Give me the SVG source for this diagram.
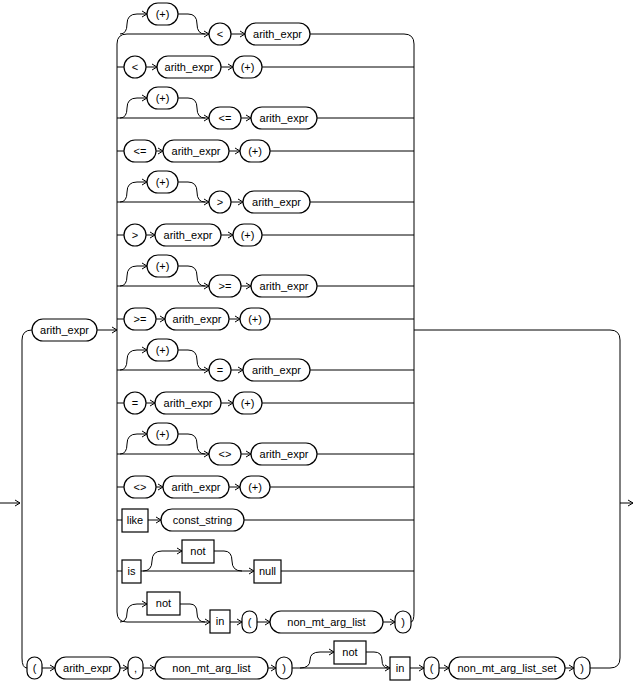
<svg xmlns="http://www.w3.org/2000/svg" width="635" height="689" viewBox="0 0 635 689">
<style>
.n{fill:#fff;stroke:#000;stroke-width:1.2}
.c{fill:none;stroke:#000;stroke-width:1}
text{font-family:"Liberation Sans",Arial,sans-serif;font-size:11px;text-anchor:middle;fill:#000}
</style>
<defs><marker id="a" markerUnits="userSpaceOnUse" markerWidth="8" markerHeight="8" refX="6" refY="4" orient="auto"><path d="M1,1 L6,4 L1,7" fill="none" stroke="#000" stroke-width="1"/></marker></defs>
<rect width="635" height="689" fill="#fff"/>
<g id="connectors" class="c">
<path d="M0,503 H20" marker-end="url(#a)"/>
<path d="M22,503 V340 Q22,330 32,330"/>
<path d="M22,503 V658 Q22,668 27,668"/>
<path d="M97,330 H117" marker-end="url(#a)"/>
<path d="M414,330 H610 Q620,330 620,340 V658 Q620,668 610,668 H590"/>
<path d="M620,503 H633" marker-end="url(#a)"/>
<path d="M127,34 Q117,34 117,44 V612 Q117,622 127,622"/>
<path d="M310,34 H404 Q414,34 414,44 V612 Q414,622 411,622"/>
<!-- bypass rows -->
<path d="M127,34 H209" marker-end="url(#a)"/><path d="M120,34 Q127,34 127,24 Q127,14 137,14 H147" marker-end="url(#a)"/><path d="M178,14 H188 Q197,14 197,24 Q197,34 205,34"/><path d="M231,34 H245" marker-end="url(#a)"/>
<path d="M117,118 H209" marker-end="url(#a)"/><path d="M120,118 Q127,118 127,108 Q127,98 137,98 H147" marker-end="url(#a)"/><path d="M178,98 H188 Q197,98 197,108 Q197,118 205,118"/><path d="M241,118 H251" marker-end="url(#a)"/><path d="M317,118 H414"/>
<path d="M117,202 H209" marker-end="url(#a)"/><path d="M120,202 Q127,202 127,192 Q127,182 137,182 H147" marker-end="url(#a)"/><path d="M178,182 H188 Q197,182 197,192 Q197,202 205,202"/><path d="M231,202 H243" marker-end="url(#a)"/><path d="M310,202 H414"/>
<path d="M117,286 H209" marker-end="url(#a)"/><path d="M120,286 Q127,286 127,276 Q127,266 137,266 H147" marker-end="url(#a)"/><path d="M178,266 H188 Q197,266 197,276 Q197,286 205,286"/><path d="M241,286 H251" marker-end="url(#a)"/><path d="M317,286 H414"/>
<path d="M117,370 H209" marker-end="url(#a)"/><path d="M120,370 Q127,370 127,360 Q127,350 137,350 H147" marker-end="url(#a)"/><path d="M178,350 H188 Q197,350 197,360 Q197,370 205,370"/><path d="M231,370 H243" marker-end="url(#a)"/><path d="M310,370 H414"/>
<path d="M117,454 H209" marker-end="url(#a)"/><path d="M120,454 Q127,454 127,444 Q127,434 137,434 H147" marker-end="url(#a)"/><path d="M178,434 H188 Q197,434 197,444 Q197,454 205,454"/><path d="M241,454 H251" marker-end="url(#a)"/><path d="M317,454 H414"/>
<!-- straight rows -->
<path d="M117,67 H124"/><path d="M146,67 H157" marker-end="url(#a)"/><path d="M221,67 H233" marker-end="url(#a)"/><path d="M262,67 H414"/>
<path d="M117,151 H124"/><path d="M156,151 H163" marker-end="url(#a)"/><path d="M229,151 H240" marker-end="url(#a)"/><path d="M270,151 H414"/>
<path d="M117,235 H124"/><path d="M146,235 H155" marker-end="url(#a)"/><path d="M221,235 H233" marker-end="url(#a)"/><path d="M262,235 H414"/>
<path d="M117,319 H124"/><path d="M156,319 H165" marker-end="url(#a)"/><path d="M229,319 H240" marker-end="url(#a)"/><path d="M270,319 H414"/>
<path d="M117,403 H124"/><path d="M146,403 H155" marker-end="url(#a)"/><path d="M221,403 H233" marker-end="url(#a)"/><path d="M262,403 H414"/>
<path d="M117,487 H124"/><path d="M156,487 H163" marker-end="url(#a)"/><path d="M229,487 H240" marker-end="url(#a)"/><path d="M270,487 H414"/>
<path d="M117,520 H122"/><path d="M148,520 H161" marker-end="url(#a)"/><path d="M244,520 H414"/>
<path d="M117,571 H122"/><path d="M141,571 H254" marker-end="url(#a)"/><path d="M143,571 Q152,571 152,561 Q152,551 162,551 H182" marker-end="url(#a)"/><path d="M214,551 H224 Q232,551 232,561 Q232,571 242,571"/><path d="M281,571 H414"/>
<path d="M127,622 H210" marker-end="url(#a)"/><path d="M120,622 Q127,622 127,613 Q127,604 137,604 H147" marker-end="url(#a)"/><path d="M180,604 H190 Q197,604 197,613 Q197,622 205,622"/><path d="M230,622 H242" marker-end="url(#a)"/><path d="M257,622 H270" marker-end="url(#a)"/><path d="M383,622 H395" marker-end="url(#a)"/>
<!-- bottom -->
<path d="M42,668 H55" marker-end="url(#a)"/><path d="M120,668 H128" marker-end="url(#a)"/><path d="M143,668 H155" marker-end="url(#a)"/><path d="M268,668 H276" marker-end="url(#a)"/><path d="M292,668 H390" marker-end="url(#a)"/><path d="M300,668 Q310,668 310,660 Q310,652 320,652 H334" marker-end="url(#a)"/><path d="M366,652 H374 Q382,652 382,660 Q382,668 388,668"/><path d="M410,668 H424" marker-end="url(#a)"/><path d="M439,668 H449" marker-end="url(#a)"/><path d="M565,668 H574" marker-end="url(#a)"/>
</g>
<g id="n_ae0"><rect class="n" x="32" y="319" width="65" height="22" rx="11"/><text x="64.5" y="334">arith_expr</text></g>
<g id="r1p"><rect class="n" x="147" y="3" width="31" height="22" rx="11"/><text x="162.5" y="18">(+)</text></g>
<g id="r1o"><rect class="n" x="209" y="23" width="22" height="22" rx="11"/><text x="220" y="38">&lt;</text></g>
<g id="r1a"><rect class="n" x="245" y="23" width="65" height="22" rx="11"/><text x="277.5" y="38">arith_expr</text></g>
<g id="r2o"><rect class="n" x="124" y="56" width="22" height="22" rx="11"/><text x="135" y="71">&lt;</text></g>
<g id="r2a"><rect class="n" x="157" y="56" width="64" height="22" rx="11"/><text x="189" y="71">arith_expr</text></g>
<g id="r2p"><rect class="n" x="233" y="56" width="29" height="22" rx="11"/><text x="247.5" y="71">(+)</text></g>
<g id="r3p"><rect class="n" x="147" y="87" width="31" height="22" rx="11"/><text x="162.5" y="102">(+)</text></g>
<g id="r3o"><rect class="n" x="209" y="107" width="32" height="22" rx="11"/><text x="225" y="122">&lt;=</text></g>
<g id="r3a"><rect class="n" x="251" y="107" width="66" height="22" rx="11"/><text x="284" y="122">arith_expr</text></g>
<g id="r4o"><rect class="n" x="124" y="140" width="32" height="22" rx="11"/><text x="140" y="155">&lt;=</text></g>
<g id="r4a"><rect class="n" x="163" y="140" width="66" height="22" rx="11"/><text x="196" y="155">arith_expr</text></g>
<g id="r4p"><rect class="n" x="240" y="140" width="30" height="22" rx="11"/><text x="255" y="155">(+)</text></g>
<g id="r5p"><rect class="n" x="147" y="171" width="31" height="22" rx="11"/><text x="162.5" y="186">(+)</text></g>
<g id="r5o"><rect class="n" x="209" y="191" width="22" height="22" rx="11"/><text x="220" y="206">&gt;</text></g>
<g id="r5a"><rect class="n" x="243" y="191" width="67" height="22" rx="11"/><text x="276.5" y="206">arith_expr</text></g>
<g id="r6o"><rect class="n" x="124" y="224" width="22" height="22" rx="11"/><text x="135" y="239">&gt;</text></g>
<g id="r6a"><rect class="n" x="155" y="224" width="66" height="22" rx="11"/><text x="188" y="239">arith_expr</text></g>
<g id="r6p"><rect class="n" x="233" y="224" width="29" height="22" rx="11"/><text x="247.5" y="239">(+)</text></g>
<g id="r7p"><rect class="n" x="147" y="255" width="31" height="22" rx="11"/><text x="162.5" y="270">(+)</text></g>
<g id="r7o"><rect class="n" x="209" y="275" width="32" height="22" rx="11"/><text x="225" y="290">&gt;=</text></g>
<g id="r7a"><rect class="n" x="251" y="275" width="66" height="22" rx="11"/><text x="284" y="290">arith_expr</text></g>
<g id="r8o"><rect class="n" x="124" y="308" width="32" height="22" rx="11"/><text x="140" y="323">&gt;=</text></g>
<g id="r8a"><rect class="n" x="165" y="308" width="64" height="22" rx="11"/><text x="197" y="323">arith_expr</text></g>
<g id="r8p"><rect class="n" x="240" y="308" width="30" height="22" rx="11"/><text x="255" y="323">(+)</text></g>
<g id="r9p"><rect class="n" x="147" y="339" width="31" height="22" rx="11"/><text x="162.5" y="354">(+)</text></g>
<g id="r9o"><rect class="n" x="209" y="359" width="22" height="22" rx="11"/><text x="220" y="374">=</text></g>
<g id="r9a"><rect class="n" x="243" y="359" width="67" height="22" rx="11"/><text x="276.5" y="374">arith_expr</text></g>
<g id="r10o"><rect class="n" x="124" y="392" width="22" height="22" rx="11"/><text x="135" y="407">=</text></g>
<g id="r10a"><rect class="n" x="155" y="392" width="66" height="22" rx="11"/><text x="188" y="407">arith_expr</text></g>
<g id="r10p"><rect class="n" x="233" y="392" width="29" height="22" rx="11"/><text x="247.5" y="407">(+)</text></g>
<g id="r11p"><rect class="n" x="147" y="423" width="31" height="22" rx="11"/><text x="162.5" y="438">(+)</text></g>
<g id="r11o"><rect class="n" x="209" y="443" width="32" height="22" rx="11"/><text x="225" y="458">&lt;&gt;</text></g>
<g id="r11a"><rect class="n" x="251" y="443" width="66" height="22" rx="11"/><text x="284" y="458">arith_expr</text></g>
<g id="r12o"><rect class="n" x="124" y="476" width="32" height="22" rx="11"/><text x="140" y="491">&lt;&gt;</text></g>
<g id="r12a"><rect class="n" x="163" y="476" width="66" height="22" rx="11"/><text x="196" y="491">arith_expr</text></g>
<g id="r12p"><rect class="n" x="240" y="476" width="30" height="22" rx="11"/><text x="255" y="491">(+)</text></g>
<g id="like"><rect class="n" x="122" y="509" width="26" height="23"/><text x="135" y="524">like</text></g>
<g id="cstr"><rect class="n" x="161" y="509" width="83" height="22" rx="11"/><text x="202.5" y="524">const_string</text></g>
<g id="is"><rect class="n" x="122" y="560" width="19" height="23"/><text x="131.5" y="575">is</text></g>
<g id="not1"><rect class="n" x="182" y="540" width="32" height="23"/><text x="198" y="555">not</text></g>
<g id="null"><rect class="n" x="254" y="560" width="27" height="23"/><text x="267.5" y="575">null</text></g>
<g id="not2"><rect class="n" x="147" y="592" width="33" height="23"/><text x="163.5" y="607">not</text></g>
<g id="in1"><rect class="n" x="210" y="610" width="20" height="23"/><text x="220" y="625">in</text></g>
<g id="lp1"><rect class="n" x="242" y="611" width="15" height="22" rx="7.5"/><text x="249.5" y="626">(</text></g>
<g id="nmal1"><rect class="n" x="270" y="611" width="113" height="22" rx="11"/><text x="326.5" y="626">non_mt_arg_list</text></g>
<g id="rp1"><rect class="n" x="395" y="611" width="16" height="22" rx="8"/><text x="403" y="626">)</text></g>
<g id="lp2"><rect class="n" x="27" y="657" width="15" height="22" rx="7.5"/><text x="34.5" y="672">(</text></g>
<g id="ae2"><rect class="n" x="55" y="657" width="65" height="22" rx="11"/><text x="87.5" y="672">arith_expr</text></g>
<g id="comma"><rect class="n" x="128" y="657" width="15" height="22" rx="7.5"/><text x="135.5" y="672">,</text></g>
<g id="nmal2"><rect class="n" x="155" y="657" width="113" height="22" rx="11"/><text x="211.5" y="672">non_mt_arg_list</text></g>
<g id="rp2"><rect class="n" x="276" y="657" width="16" height="22" rx="8"/><text x="284" y="672">)</text></g>
<g id="not3"><rect class="n" x="334" y="641" width="32" height="23"/><text x="350" y="656">not</text></g>
<g id="in2"><rect class="n" x="390" y="657" width="20" height="23"/><text x="400" y="672">in</text></g>
<g id="lp3"><rect class="n" x="424" y="657" width="15" height="22" rx="7.5"/><text x="431.5" y="672">(</text></g>
<g id="nmals"><rect class="n" x="449" y="657" width="116" height="22" rx="11"/><text x="507" y="672">non_mt_arg_list_set</text></g>
<g id="rp3"><rect class="n" x="574" y="657" width="16" height="22" rx="8"/><text x="582" y="672">)</text></g>
</svg>
